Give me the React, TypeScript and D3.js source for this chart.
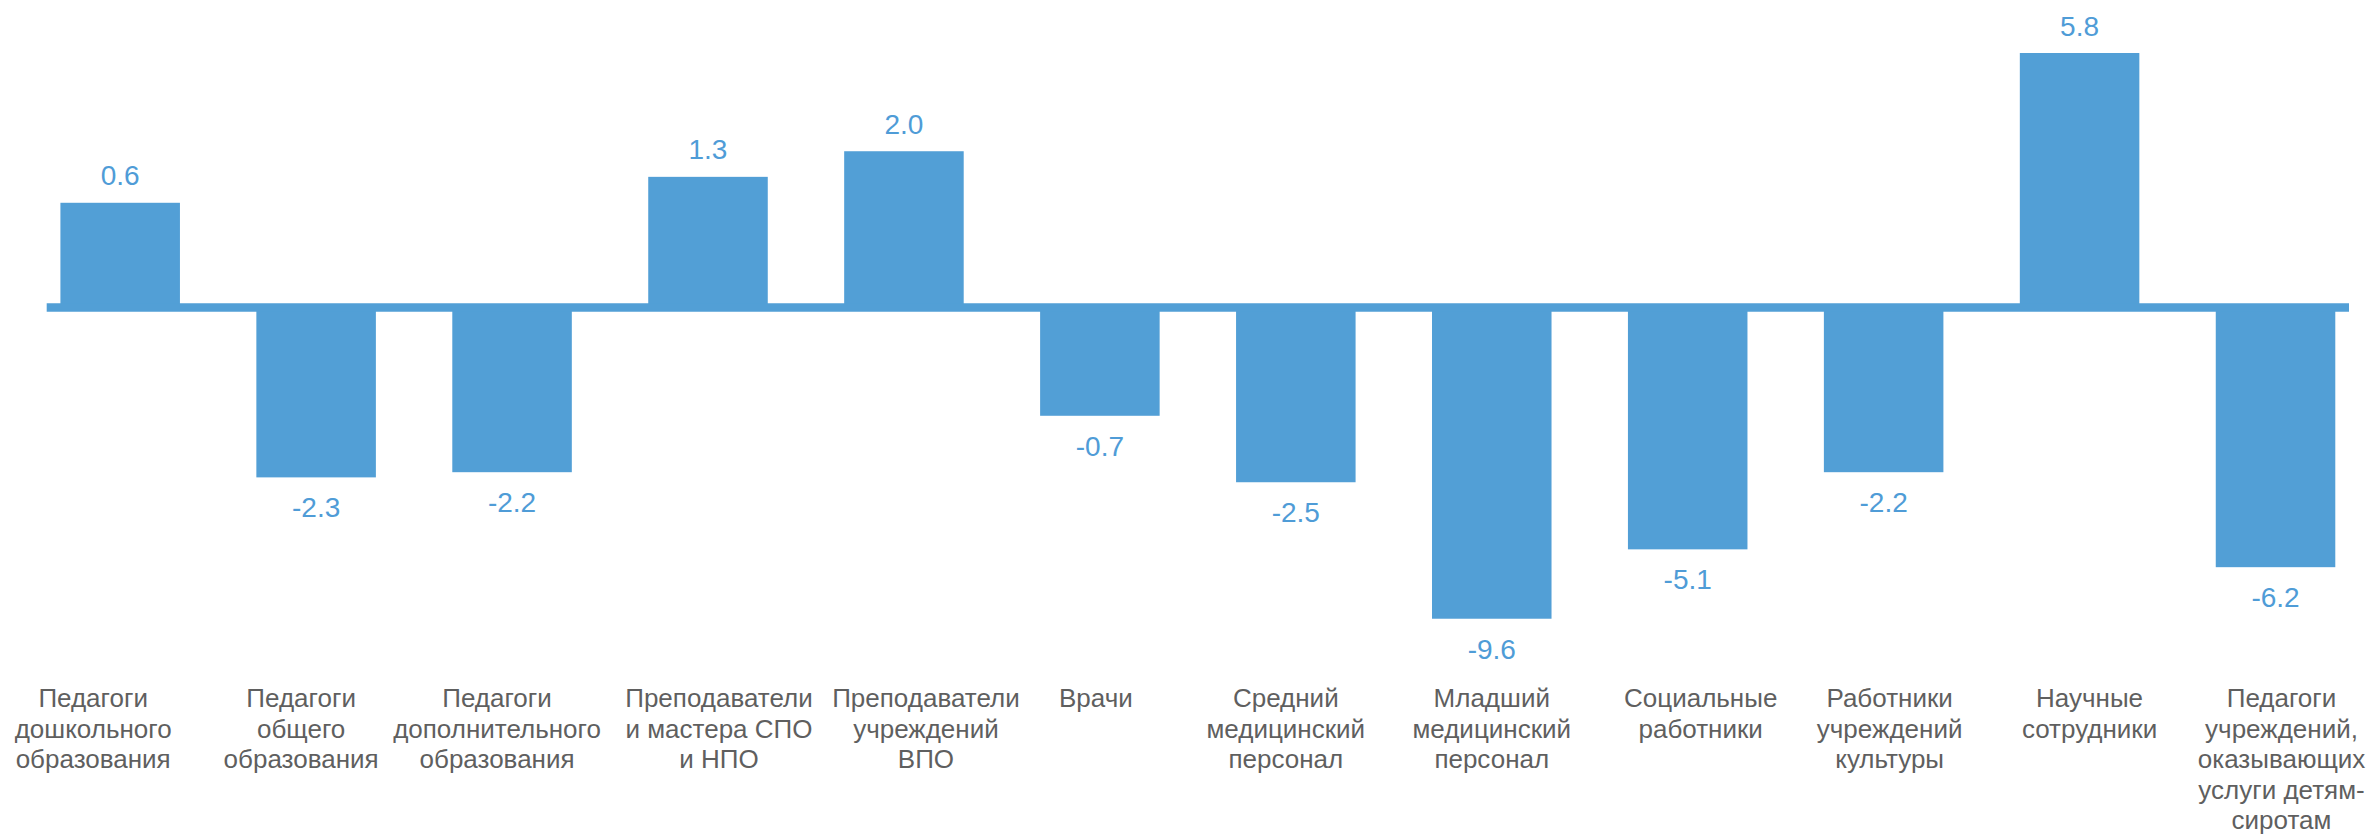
import React from "react";
import * as d3 from "d3";

const WIDTH = 2368;
const HEIGHT = 838;

const categories = [
  "Педагоги\nдошкольного\nобразования",
  "Педагоги\nобщего\nобразования",
  "Педагоги\nдополнительного\nобразования",
  "Преподаватели\nи мастера СПО\nи НПО",
  "Преподаватели\nучреждений\nВПО",
  "Врачи",
  "Средний\nмедицинский\nперсонал",
  "Младший\nмедицинский\nперсонал",
  "Социальные\nработники",
  "Работники\nучреждений\nкультуры",
  "Научные\nсотрудники",
  "Педагоги\nучреждений,\nоказывающих\nуслуги детям-\nсиротам",
];

// printed values above / below the bars
const changes = [0.6, -2.3, -2.2, 1.3, 2.0, -0.7, -2.5, -9.6, -5.1, -2.2, 5.8, -6.2];

// bar lengths as drawn in the picture (they do not follow the printed numbers)
const barLengths = [3.23, -5.24, -5.08, 4.03, 4.82, -3.34, -5.39, -9.6, -7.46, -5.08, 7.85, -8.01];

const BAR_COLOR = "#529fd6";
const LABEL_COLOR = "#4f9cd7";
const TEXT_COLOR = "#5f5f5f";
const FONT = "'Liberation Sans', Arial, sans-serif";

// the category labels in the original sit a bit off their bars
const LABEL_NUDGE = [-27, -15, -15, 11, 22, -4, -10, 0, 13, 6, 10, 6];

// hyphen instead of the unicode minus d3 uses by default
const fmt = d3.formatLocale({
  decimal: ".",
  thousands: ",",
  grouping: [3],
  currency: ["", ""],
  minus: "-",
}).format(".1f");

export default function App() {
  const x = d3
    .scaleBand<string>()
    .domain(categories)
    .range([46.7, 2349])
    .paddingInner(0.39)
    .paddingOuter(0.07);

  const y = d3.scaleLinear().domain([-10, 10]).range([631.7, -16.7]);
  const y0 = y(0);

  const data = categories.map((c, i) => ({
    category: c,
    change: changes[i],
    length: barLengths[i],
  }));

  return (
    <div style={{ position: "absolute", left: 0, top: 0 }}>
      <svg width={WIDTH} height={HEIGHT} style={{ display: "block", background: "#fff" }}>
        <g>
          {data.map((d) => {
            const top = Math.min(y(d.length), y0);
            const h = Math.abs(y(d.length) - y0);
            return (
              <rect
                key={d.category}
                x={x(d.category)}
                y={top}
                width={x.bandwidth()}
                height={h}
                fill={BAR_COLOR}
              />
            );
          })}
        </g>
        <line
          x1={x.range()[0]}
          x2={x.range()[1]}
          y1={y0}
          y2={y0}
          stroke={BAR_COLOR}
          strokeWidth={8.4}
        />
        <g fontFamily={FONT} fontSize={28} fill={LABEL_COLOR} textAnchor="middle">
          {data.map((d) => {
            const cx = (x(d.category) ?? 0) + x.bandwidth() / 2;
            const yy = d.length >= 0 ? y(d.length) - 17.5 : y(d.length) + 40;
            return (
              <text key={d.category} x={cx} y={yy}>
                {fmt(d.change)}
              </text>
            );
          })}
        </g>
        <g fontFamily={FONT} fontSize={26} fill={TEXT_COLOR} textAnchor="middle">
          {data.map((d, i) => {
            const cx = (x(d.category) ?? 0) + x.bandwidth() / 2 + LABEL_NUDGE[i];
            return (
              <text key={d.category} x={cx} y={707}>
                {d.category.split("\n").map((line, j) => (
                  <tspan key={j} x={cx} dy={j === 0 ? 0 : 30.5}>
                    {line}
                  </tspan>
                ))}
              </text>
            );
          })}
        </g>
      </svg>
    </div>
  );
}
